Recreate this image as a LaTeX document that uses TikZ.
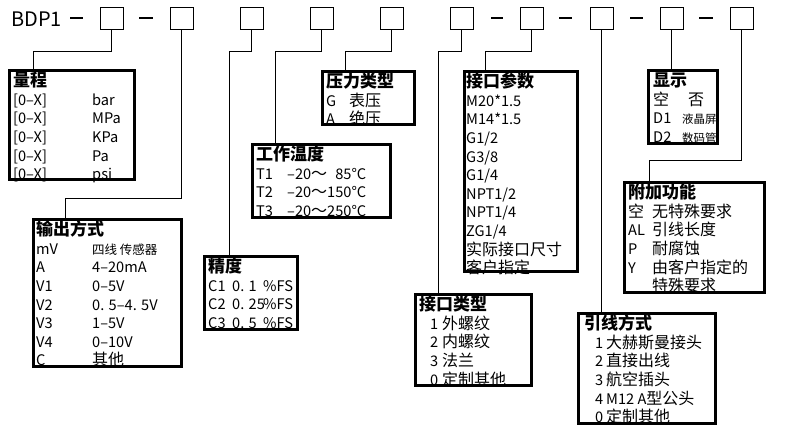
\documentclass[tikz,border=0pt]{standalone}
\usepackage{fontspec}
\setmainfont{Noto Sans CJK SC}
\usetikzlibrary{calc}
\newcommand\boxtitle[1]{\rule{0pt}{14pt}\smash{{\fontsize{17}{18.6}\selectfont\bfseries #1}}}
\newcommand\zh[1]{{\fontsize{16}{18.6}\selectfont #1}}
\newcommand\zhs[1]{{\fontsize{11.5}{18.6}\selectfont #1}}
\newcommand\zhm[1]{{\fontsize{12.5}{18.6}\selectfont #1}}
\newcommand\colw[2]{\makebox[#1pt][l]{#2}}
\begin{document}
\begin{tikzpicture}[x=1pt,y=-1pt,
  conn/.style={line width=1.2pt},
  dashline/.style={line width=1.4pt},
  bx/.style={draw, line width=2.6pt, inner sep=0pt, outer sep=0pt, anchor=north west},
  topbox/.style={draw, line width=1pt, minimum width=23pt, minimum height=22pt, inner sep=0pt},
  txt/.style={anchor=north west, inner sep=0pt, align=left, font=\fontsize{14.6}{18.6}\selectfont}]
\useasboundingbox (0,0) rectangle (800,445);

% model code row
\node[anchor=west, inner sep=0pt, font=\fontsize{20}{24}\selectfont] (model) at (11,19) {BDP1};
\foreach \i in {1,...,10} \node[topbox] (b\i) at ({111.5+70*(\i-1)},18) {};
\draw[dashline] (70,18) -- (83,18);
\draw[dashline] (139,18) -- (153,18);
\draw[dashline] (491,18) -- (503,18);
\draw[dashline] (559,18) -- (572,18);
\draw[dashline] (630,18) -- (643,18);
\draw[dashline] (699,18) -- (713,18);

% texts
\node[txt] (rangeT) at (13,72.5) {\boxtitle{量程}\\
\colw{79}{[0–X]}bar\\
\colw{79}{[0–X]}MPa\\
\colw{79}{[0–X]}KPa\\
\colw{79}{[0–X]}Pa\\
\colw{79}{[0–X]}psi};

\node[txt] (outT) at (36,221.5) {\boxtitle{输出方式}\\
\colw{56}{mV}\zhm{四线 传感器}\\
\colw{56}{A}4–20mA\\
\colw{56}{V1}0–5V\\
\colw{56}{V2}0. 5–4. 5V\\
\colw{56}{V3}1–5V\\
\colw{56}{V4}0–10V\\
\colw{56}{C}\zh{其他}};

\node[txt] (ptypeT) at (326,73.5) {\boxtitle{压力类型}\\
\colw{23}{G}\zh{表压}\\
\colw{23}{A}\zh{绝压}};

\node[txt] (tempT) at (256,146.5) {\boxtitle{工作温度}\\
\colw{31}{T1}–20\zh{～}\phantom{1}85°C\\
\colw{31}{T2}–20\zh{～}150°C\\
\colw{31}{T3}–20\zh{～}250°C};

\node[txt] (precT) at (208,258.5) {\boxtitle{精度}\\
\colw{24}{C1}\colw{31}{0. 1}\%FS\\
\colw{24}{C2}\colw{31}{0. 25}\%FS\\
\colw{24}{C3}\colw{31}{0. 5}\%FS};

\node[txt] (iparT) at (466,73.5) {\boxtitle{接口参数}\\
M20*1.5\\
M14*1.5\\
G1/2\\
G3/8\\
G1/4\\
NPT1/2\\
NPT1/4\\
ZG1/4\\
\zh{实际接口尺寸}\\
\zh{客户指定}};

\node[txt] (itypeT) at (419,296.5) {\boxtitle{接口类型}\\
\hspace*{11pt}\colw{12}{1}\zh{外螺纹}\\
\hspace*{11pt}\colw{12}{2}\zh{内螺纹}\\
\hspace*{11pt}\colw{12}{3}\zh{法兰}\\
\hspace*{11pt}\colw{12}{0}\zh{定制其他}};

\node[txt] (leadT) at (584,315.5) {\boxtitle{引线方式}\\
\hspace*{11pt}\colw{11}{1}\zh{大赫斯曼接头}\\
\hspace*{11pt}\colw{11}{2}\zh{直接出线}\\
\hspace*{11pt}\colw{11}{3}\zh{航空插头}\\
\hspace*{11pt}\colw{11}{4}M12 A\zh{型公头}\\
\hspace*{11pt}\colw{11}{0}\zh{定制其他}};

\node[txt] (dispT) at (653,72.5) {\boxtitle{显示}\\
\zh{\colw{35}{空}否}\\
\colw{29}{D1}\zhs{液晶屏}\\
\colw{29}{D2}\zhs{数码管}};

\node[txt] (addT) at (628,184.5) {\boxtitle{附加功能}\\
\colw{24}{\zh{空}}\zh{无特殊要求}\\
\colw{24}{AL}\zh{引线长度}\\
\colw{24}{P}\zh{耐腐蚀}\\
\colw{24}{Y}\zh{由客户指定的}\\
\hspace*{24pt}\zh{特殊要求}};

% boxes
\node[bx, minimum width=125.4pt, minimum height=109.4pt] (range) at (9.3,70.3) {};
\node[bx, minimum width=148.4pt, minimum height=147.4pt] (out) at (33.3,219.3) {};
\node[bx, minimum width=92.4pt, minimum height=53.4pt] (ptype) at (322.3,71.3) {};
\node[bx, minimum width=138.4pt, minimum height=73.4pt] (temp) at (252.3,144.3) {};
\node[bx, minimum width=93.4pt, minimum height=73.4pt] (prec) at (204.3,256.3) {};
\node[bx, minimum width=113.4pt, minimum height=200.4pt] (ipar) at (464.3,71.3) {};
\node[bx, minimum width=116.4pt, minimum height=91.4pt] (itype) at (415.3,294.3) {};
\node[bx, minimum width=137.4pt, minimum height=110.4pt] (lead) at (578.3,313.3) {};
\node[bx, minimum width=69.4pt, minimum height=73.4pt] (disp) at (648.3,70.3) {};
\node[bx, minimum width=140.4pt, minimum height=110.4pt] (add) at (624.3,182.3) {};

% connectors
\draw[conn] (b1.south) -- ++(0,22) -| ([xshift=24pt]range.north west);
\draw[conn] (b2.south) -- ++(0,169) -| ([xshift=32pt]out.north west);
\draw[conn] (b3.south) -- ++(0,22) -| ([xshift=25pt]prec.north west);
\draw[conn] (b4.south) -- ++(0,22) -| ([xshift=23pt]temp.north west);
\draw[conn] (b5.south) -- ++(0,22) -| ([xshift=23pt]ptype.north west);
\draw[conn] (b6.south) -- ++(0,22) -| ([xshift=23pt]itype.north west);
\draw[conn] (b7.south) -- ++(0,22) -| ([xshift=21pt]ipar.north west);
\draw[conn] (b8.south) -- (b8.south |- lead.north);
\draw[conn] (b9.south) -- (b9.south |- disp.north);
\draw[conn] (b10.south) -- ++(0,131) -| ([xshift=25pt]add.north west);
\end{tikzpicture}
\end{document}
